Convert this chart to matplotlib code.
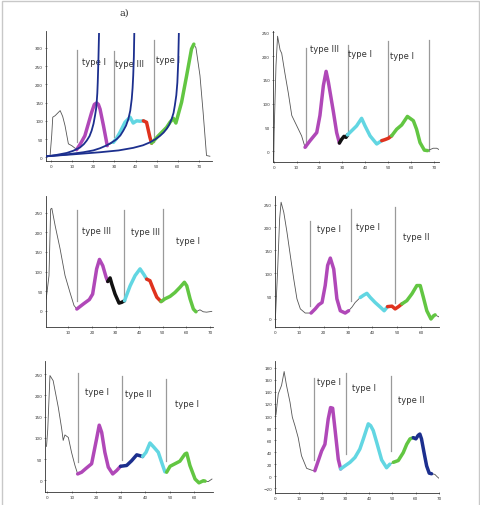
import matplotlib
matplotlib.use("Agg")
from matplotlib import pyplot as plt
from matplotlib.patches import Rectangle
import numpy as np

# ---- data ----
# panel 1 (top left)
p1_x = [-0.5, 0.3, 0.8, 1.9, 4.3, 5.5, 6.6, 8.2, 9.8, 11.8,
        12.1, 14.0, 16.0, 17.8, 19.2, 20.5, 21.6, 22.4, 23.2, 24.8, 26.6,
        27.5, 28.5,
        29.5, 31.0, 32.6, 35.0, 37.4, 38.9, 40.5, 42.1, 43.7,
        45.2, 46.8, 47.6,
        50.8, 54.7, 56.3, 57.9, 59.1, 61.8, 64.2, 66.5, 67.6,
        68.6, 70.5, 72.0, 73.6, 75.2]
p1_y = [2, 60, 110, 114, 128, 112, 87, 37, 32, 23,
        21, 38, 59, 95, 123, 145, 149, 145, 132, 87, 32,
        35, 38,
        41, 52, 68, 96, 110, 94, 100, 99, 100,
        96, 55, 39,
        59, 82, 96, 107, 94, 151, 224, 297, 310,
        300, 224, 123, 5, 3]
p1_spans = [(12.1, 26.6), (29.5, 43.7), (43.7, 47.6), (47.6, 67.6)]
p1_cuts = [12.5, 30.0, 48.6]
p1_cut_lo = [41, 55, 41]
p1_cut_hi = [294, 290, 322]
p1_labels = ["type I", "type III", "type I"]
p1_lab_x = [20.5, 37.2, 55.3]
p1_lab_y = [263, 258, 267]
# fitted curves in panel 1
p1_fit1_x = [-2.0, 2.0, 7.4, 10.5, 13.7, 15.5, 16.9, 18.2, 19.2, 20.1, 20.8,
             21.3, 21.6, 21.9, 22.1, 22.4, 22.7]
p1_fit1_y = [3, 6, 12, 18, 27, 36, 46, 58, 73, 92, 114,
             132, 151, 176, 205, 262, 338]
p1_fit2_x = [-2.0, 6.0, 15.3, 20.0, 23.2, 26.0, 27.9, 29.6, 31.1, 32.8, 34.2,
             35.5, 36.6, 37.5, 38.2, 38.6, 38.9, 39.2, 39.4]
p1_fit2_y = [3, 7, 14, 19, 25, 32, 38, 44, 50, 60, 73,
             87, 105, 128, 160, 190, 224, 275, 338]
p1_fit3_x = [-2.0, 10.0, 23.2, 32.0, 38.9, 43.5, 46.8, 49.5, 51.6, 53.3, 54.7,
             56.0, 57.1, 58.0, 58.6, 59.3, 59.8, 60.2, 60.5]
p1_fit3_y = [3, 8, 14, 19, 26, 33, 41, 50, 59, 68, 78,
             90, 105, 122, 142, 170, 205, 260, 338]

# panel 2 (top right)
p2_x = [0.0, 0.2, 1.0, 1.7, 2.8, 3.5, 4.9, 6.4, 7.9, 9.3, 10.7, 12.2, 13.7,
        15.9, 18.8, 20.2, 21.7, 22.9, 23.9, 26.1, 27.5, 28.7,
        29.7, 30.7, 31.6, 32.2,
        34.1, 36.2, 38.4, 39.9, 42.1, 45.0, 47.2,
        48.5, 50.1, 51.5,
        53.7, 55.9, 58.4, 61.0, 62.4, 63.9, 65.8, 67.2,
        69.7, 71.2, 72.3]
p2_y = [-22, 40, 180, 242, 213, 206, 164, 122, 75, 61, 47, 32, 8,
        22, 39, 75, 138, 168, 145, 82, 39, 17,
        25, 31, 29, 34,
        43, 53, 69, 53, 32, 15, 22,
        24, 27, 32,
        46, 55, 73, 64, 46, 18, 2, 1,
        6, 6, 3]
p2_spans = [(13.7, 28.7), (28.7, 32.2), (32.2, 47.2), (47.2, 51.5), (51.5, 67.2)]
p2_cuts = [14.0, 32.6, 49.8, 68.0]
p2_cut_lo = [8, 32, 29, 1]
p2_cut_hi = [217, 224, 231, 234]
p2_labels = ["type III", "type I", "type I"]
p2_lab_x = [22.1, 37.7, 56.2]
p2_lab_y = [217, 205, 201]

# panel 3 (middle left)
p3_x = [0.6, 1.8, 2.5, 3.0, 4.4, 6.5, 8.6, 10.7, 12.4, 13.6,
        16.4, 18.9, 20.3, 22.0, 23.2, 24.6, 26.0, 26.7,
        27.7, 28.4, 29.8, 31.5, 32.6, 33.8,
        36.2, 38.3, 40.4, 42.1, 43.2,
        44.6, 46.0, 47.5, 49.3,
        51.0, 53.1, 55.2, 57.3, 59.2, 60.2, 61.6, 63.0, 64.1,
        65.8, 67.2, 68.6, 70.8]
p3_y = [30, 90, 259, 261, 217, 158, 90, 47, 14, 5,
        18, 29, 43, 107, 131, 115, 86, 75,
        84, 69, 43, 20, 22, 26,
        64, 90, 107, 92, 81,
        77, 56, 35, 24,
        31, 37, 47, 60, 73, 64, 31, 5, -2,
        3, -2, -3, -1]
p3_spans = [(13.6, 26.7), (26.7, 33.8), (33.8, 43.2), (43.2, 49.3), (49.3, 64.1)]
p3_cuts = [13.7, 33.8, 50.0]
p3_cut_lo = [26, 35, 26]
p3_cut_hi = [256, 256, 259]
p3_labels = ["type III", "type III", "type I"]
p3_lab_x = [21.8, 42.5, 60.9]
p3_lab_y = [204, 203, 180]

# panel 4 (middle right)
p4_x = [0.0, 1.1, 1.9, 2.5, 3.6, 4.9, 6.3, 7.7, 9.0, 10.4, 12.4, 13.8, 14.8,
        16.5, 17.9, 19.3, 20.6, 21.6, 22.7, 24.1, 25.4, 26.8, 28.8, 30.2,
        31.6, 32.9, 35.0,
        36.4, 37.7, 39.1, 41.1, 43.2, 44.8, 46.2,
        48.0, 49.3, 50.7, 52.1,
        54.1, 56.2, 58.2, 59.6, 60.9, 62.3, 64.0, 65.1, 65.7,
        66.4, 67.5]
p4_y = [-18, 109, 219, 255, 233, 190, 138, 87, 44, 22, 13, 13, 13,
        22, 31, 36, 73, 117, 133, 109, 44, 18, 13, 18,
        26, 36, 47,
        52, 56, 47, 36, 26, 18, 27,
        28, 22, 27, 33,
        40, 55, 73, 73, 47, 18, 0, 7, 9,
        7, 4]
p4_spans = [(14.8, 30.2), (35.0, 46.2), (46.2, 52.1), (52.1, 65.7)]
p4_cuts = [14.5, 31.3, 49.1]
p4_cut_lo = [28, 40, 36]
p4_cut_hi = [215, 240, 244]
p4_labels = ["type I", "type I", "type II"]
p4_lab_x = [22.0, 38.1, 57.8]
p4_lab_y = [197, 203, 180]

# panel 5 (bottom left)
p5_x = [-0.3, 0.2, 1.1, 2.4, 4.5, 5.9, 6.5, 7.2, 8.6, 9.9, 11.3, 12.4,
        14.0, 15.8, 18.1, 20.1, 21.2, 22.2, 23.5, 24.9, 26.7, 28.3, 29.9,
        32.4, 34.4, 36.5, 37.8, 38.9,
        40.3, 41.9, 43.5, 45.3, 46.7, 48.0,
        48.7,
        50.1, 52.1, 54.1, 56.2, 56.9, 58.2, 60.3, 61.9, 63.7, 64.4,
        65.7, 67.2]
p5_y = [80, 120, 247, 235, 172, 121, 94, 107, 101, 66, 35, 15,
        19, 28, 39, 97, 130, 113, 66, 31, 15, 23, 33,
        35, 46, 60, 58, 56,
        66, 88, 78, 66, 42, 20,
        19,
        33, 39, 45, 62, 64, 35, 3, -6, -1, -2,
        -3, 3]
p5_spans = [(12.4, 29.9), (29.9, 38.9), (38.9, 48.0), (48.7, 64.4)]
p5_cuts = [12.5, 30.3, 48.6]
p5_cut_lo = [42, 48, 45]
p5_cut_hi = [253, 245, 239]
p5_labels = ["type I", "type II", "type I"]
p5_lab_x = [20.4, 37.1, 56.9]
p5_lab_y = [210, 204, 182]

# panel 6 (bottom right)
p6_x = [0.3, 1.3, 2.7, 3.8, 4.8, 6.3, 7.3, 8.4, 9.8, 11.2, 13.4, 15.5, 16.9,
        18.4, 19.8, 21.2, 22.6, 23.6, 24.5, 25.5, 26.9, 27.9,
        29.7, 31.9, 34.0, 36.1, 37.6, 39.7, 40.7, 41.8, 43.3, 45.4, 47.5, 48.9,
        50.4,
        52.5, 54.6, 56.1, 57.5, 58.9,
        60.0, 61.0, 61.7, 62.4, 63.5, 64.6, 65.7, 66.7,
        68.1, 69.1, 70.0]
p6_y = [102, 137, 151, 174, 151, 123, 98, 84, 64, 34, 13, 10, 9,
        26, 42, 53, 95, 114, 113, 78, 28, 12,
        17, 23, 31, 45, 62, 87, 84, 76, 56, 27, 14, 20,
        23,
        26, 39, 53, 62, 64,
        62, 68, 70, 62, 39, 17, 5, 4,
        3, -1, -4]
p6_spans = [(16.9, 27.9), (27.9, 48.9), (50.4, 58.9), (58.9, 66.7)]
p6_cuts = [16.5, 30.0, 49.4]
p6_cut_lo = [27, 37, 42]
p6_cut_hi = [164, 171, 166]
p6_labels = ["type I", "type I", "type II"]
p6_lab_x = [22.9, 38.0, 58.2]
p6_lab_y = [157, 147, 128]

# ---- styles ----
MAG = "#b048b8"
CYAN = "#62d6e2"
RED = "#e0321e"
GREEN = "#62c642"
NAVY = "#1c2f8e"
BLACK = "#111111"

p1_colors = [MAG, CYAN, RED, GREEN]
p2_colors = [MAG, BLACK, CYAN, RED, GREEN]
p3_colors = [MAG, BLACK, CYAN, RED, GREEN]
p4_colors = [MAG, CYAN, RED, GREEN]
p5_colors = [MAG, NAVY, CYAN, GREEN]
p6_colors = [MAG, CYAN, GREEN, NAVY]

W, H = 481, 506
fig = plt.figure(figsize=(W / 100, H / 100), dpi=100)


def make_axes(left, right, top, bottom):
    return fig.add_axes([left / W, 1 - bottom / H, (right - left) / W, (bottom - top) / H])


def draw_panel(ax, xs, ys, spans, colors, cuts, lo, hi, labels, lx, ly,
               xlim, ylim, xticks, yticks):
    xs = np.array(xs)
    ys = np.array(ys)
    ax.plot(xs, ys, color="#555555", lw=0.6, zorder=2)
    for (a, b), c in zip(spans, colors):
        m = (xs >= a - 1e-9) & (xs <= b + 1e-9)
        ax.plot(xs[m], ys[m], color=c, lw=2.5, solid_capstyle="round",
                solid_joinstyle="round", zorder=3)
    for cx, l, h in zip(cuts, lo, hi):
        ax.plot([cx, cx], [l, h], color="#9a9a9a", lw=0.9, zorder=1)
    for t, tx, ty in zip(labels, lx, ly):
        ax.text(tx, ty, t, fontsize=6, color="#333333", ha="center",
                va="center", zorder=1)
    ax.set_xlim(*xlim)
    ax.set_ylim(*ylim)
    ax.set_xticks(xticks)
    ax.set_yticks(yticks)
    for s in ("top", "right"):
        ax.spines[s].set_visible(False)
    for s in ("left", "bottom"):
        ax.spines[s].set_linewidth(0.6)
        ax.spines[s].set_color("#333333")
    ax.tick_params(labelsize=3, length=1.5, width=0.4, pad=1.5,
                   colors="#333333", direction="inout")
    ax.patch.set_alpha(0)


ax1 = make_axes(46, 212, 32, 162)
draw_panel(ax1, p1_x, p1_y, p1_spans, p1_colors, p1_cuts, p1_cut_lo, p1_cut_hi,
           p1_labels, p1_lab_x, p1_lab_y, (-2.4, 76.2), (-10, 346),
           range(0, 71, 10), range(0, 301, 50))
for fx, fy in [(p1_fit1_x, p1_fit1_y), (p1_fit2_x, p1_fit2_y), (p1_fit3_x, p1_fit3_y)]:
    ax1.plot(fx, fy, color=NAVY, lw=1.3, zorder=4)

ax2 = make_axes(273, 439, 32, 163)
draw_panel(ax2, p2_x, p2_y, p2_spans, p2_colors, p2_cuts, p2_cut_lo, p2_cut_hi,
           p2_labels, p2_lab_x, p2_lab_y, (-0.3, 72.2), (-23, 253),
           range(0, 71, 10), range(0, 251, 50))

ax3 = make_axes(45.7, 212.7, 196.7, 328)
draw_panel(ax3, p3_x, p3_y, p3_spans, p3_colors, p3_cuts, p3_cut_lo, p3_cut_hi,
           p3_labels, p3_lab_x, p3_lab_y, (0.4, 71.2), (-40.7, 293),
           range(10, 71, 10), range(0, 251, 50))

ax4 = make_axes(275, 439, 197, 328)
draw_panel(ax4, p4_x, p4_y, p4_spans, p4_colors, p4_cuts, p4_cut_lo, p4_cut_hi,
           p4_labels, p4_lab_x, p4_lab_y, (0.0, 67.3), (-17.5, 268.6),
           range(0, 61, 10), range(0, 251, 50))

ax5 = make_axes(45.3, 212.7, 361.7, 493)
draw_panel(ax5, p5_x, p5_y, p5_spans, p5_colors, p5_cuts, p5_cut_lo, p5_cut_hi,
           p5_labels, p5_lab_x, p5_lab_y, (-0.8, 67.5), (-27.6, 282),
           range(0, 61, 10), range(0, 251, 50))

ax6 = make_axes(275, 439.3, 362.3, 494)
draw_panel(ax6, p6_x, p6_y, p6_spans, p6_colors, p6_cuts, p6_cut_lo, p6_cut_hi,
           p6_labels, p6_lab_x, p6_lab_y, (-0.1, 70.0), (-28, 191),
           range(0, 71, 10), range(-20, 181, 20))

fig.text(124 / W, 1 - 13 / H, "a)", fontsize=7, family="DejaVu Serif",
         color="#333333", ha="center", va="center")

# outer frame
fig.add_artist(Rectangle((1.5 / W, -0.01), 478 / W, 1.01 - 1.5 / H,
                         transform=fig.transFigure, fill=False,
                         edgecolor="#c8c8c8", lw=1))

fig.savefig("out.png", dpi=100)
